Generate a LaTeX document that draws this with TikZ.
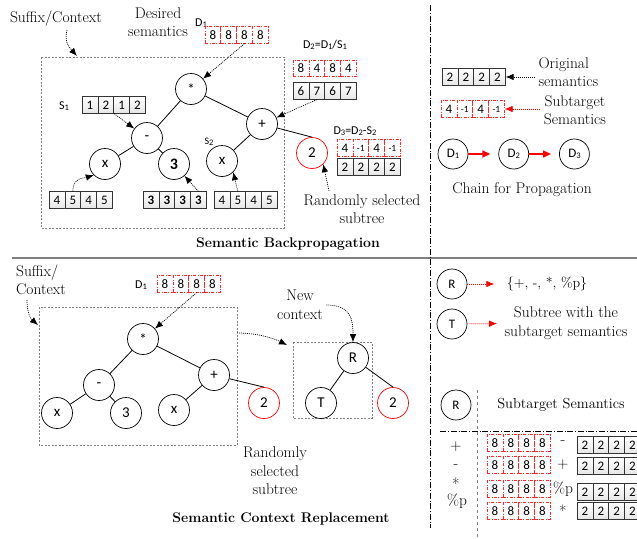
\documentclass[tikz,border=0pt]{standalone}
\usepackage{fontspec}
\newfontfamily\calibri{Carlito}
\usetikzlibrary{positioning, arrows.meta, calc}

\newcommand{\ix}[1]{\raisebox{-0.25ex}{\fontsize{8.5}{8.5}\selectfont #1}}
\newcommand{\sm}[1]{{\fontsize{9.5}{9.5}\selectfont #1}}
% one row of semantic cells: name, style, centre of first cell, values
\newcommand{\semrow}[4]{%
  \foreach \val [count=\idx] in {#4} {
    \node[#2] (#1-\idx) at ($(#3)+(\idx*15.8-15.8,0)$) {\val};
  }%
}

\tikzset{
  tnode/.style={circle, draw, line width=0.7pt, minimum size=31pt, inner sep=0pt,
    font=\calibri\fontsize{15}{15}\selectfont},
  rnode/.style={tnode, draw=red},
  snode/.style={tnode, minimum size=30pt, font=\calibri\fontsize{13}{13}\selectfont},
  semcell/.style={minimum width=15.8pt, minimum height=16.5pt, inner sep=0pt,
    font=\calibri\fontsize{13}{13}\selectfont},
  cellk/.style={semcell, draw=black!80, line width=0.7pt, top color=white, bottom color=black!10},
  cellr/.style={semcell, draw=red!85, line width=0.7pt, fill=white,
    dash pattern=on 3pt off 1.5pt on 0.8pt off 1.5pt},
  txt/.style={font=\fontsize{15.5}{18.5}\selectfont, align=center},
  optxt/.style={txt, inner sep=0pt},
  lbl/.style={font=\calibri\fontsize{12}{12}\selectfont, inner sep=0pt},
  title/.style={font=\bfseries\fontsize{14}{16}\selectfont},
  tedge/.style={line width=0.8pt},
  hint/.style={line width=0.7pt, dash pattern=on 1pt off 1pt, -{Latex[length=8pt,width=6.5pt]}},
  redhint/.style={hint, red},
  prop/.style={red, line width=1.3pt, -{Triangle[length=8pt,width=7pt]}},
  ctxbox/.style={draw=gray, line width=0.5pt, dash pattern=on 2pt off 1.5pt},
  divider/.style={line width=0.6pt, dash pattern=on 6pt off 2pt on 0.6pt off 2pt},
}

\begin{document}
\begin{tikzpicture}[x=1pt, y=-1pt]
\clip (0,0) rectangle (637,538);
\fill[white] (0,0) rectangle (637,538);

% semantic backpropagation
\node[txt] (suf) at (56,19) {Suffix/Context};
\node[txt] (want) at (158,22) {Desired\\semantics};
\node[lbl] (d1lab) at (201,23) {D\ix{1}};
\semrow{d1}{cellr}{212.9,35}{8,8,8,8}
\draw[ctxbox] (41,57) rectangle (284,228);
\coordinate (suf-tail) at (67,30);
\coordinate (suf-tip) at (77,56);

\node[tnode] (star) at (191,89) {*};
\node[tnode] (minus) at (147,138) {-};
\node[tnode] (plus) at (262,124) {+};
\node[tnode] (xa) at (105,164) {x};
\node[tnode, font=\calibri\bfseries\fontsize{16}{16}\selectfont] (three) at (174,164) {3};
\node[tnode] (xb) at (222,161) {x};
\node[rnode] (two) at (312,153) {2};
\draw[tedge]
    (star) edge (minus)
    (star) edge (plus)
    (minus) edge (xa)
    (minus) edge (three)
    (plus) edge (xb)
    (plus) edge (two.north);

\node[lbl] (s1lab) at (64,106) {S\ix{1}};
\semrow{s1}{cellk}{90,105}{1,2,1,2}
\node[lbl, font=\calibri\fontsize{10}{10}\selectfont] (s2lab) at (209,142) {S\ix{2}};
\semrow{la}{cellk}{57,200}{4,5,4,5}
\semrow{th}{cellk, font=\calibri\bfseries\fontsize{13}{13}\selectfont}{151,200}{3,3,3,3}
\semrow{lb}{cellk}{222,200}{4,5,4,5}

\node[lbl] (d2lab) at (325,45) {D\ix{2}=D\ix{1}/S\ix{1}};
\semrow{d2}{cellr}{301,68.5}{8,4,8,4}
\semrow{sv}{cellk}{301,91}{6,7,6,7}
\node[lbl] (d3lab) at (355,131) {D\ix{3}=D\ix{2}-S\ix{2}};
\semrow{d3}{cellr}{345,148}{4,\sm{-1},4,\sm{-1}}
\semrow{tw}{cellk}{345,167}{2,2,2,2}

\node[txt] (rand) at (362,209) {Randomly selected\\subtree};
\node[title] (bp) at (288,244) {Semantic Backpropagation};

\draw[hint] (suf-tail) .. controls +(-3,12) and +(-8,-9) .. (suf-tip);
\draw[hint] (d1-3.south) -- (star);
\draw[hint] (s1-2.south east) -- (minus);
\draw[hint] (la-2.north) .. controls +(0,-14) and +(-10,3) .. (xa.south west);
\draw[hint] (th-4.north) -- (three);
\draw[hint] (lb-2.north) -- (xb.south east);
\draw[hint] (sv-2.south) -- (plus);
\draw[hint] ([xshift=-33pt]rand.north) -- (two.south east);

% legend, top right
\semrow{o}{cellk, minimum height=17pt}{450,77}{2,2,2,2}
\node[txt, align=left, anchor=west] (orig) at (535,72) {Original\\semantics};
\draw[hint] (o-4.east -| orig.west) -- (o-4.east);
\semrow{st}{cellr}{449,109}{4,\sm{-1},4,\sm{-1}}
\node[txt] (subt) at (575,110) {Subtarget\\Semantics};
\draw[redhint] (st-4.east -| subt.west) -- (st-4.east);

\node[snode] (c1) at (453,154) {D\ix{1}};
\node[snode, right=30pt of c1] (c2) {D\ix{2}};
\node[snode, right=30pt of c2] (c3) {D\ix{3}};
\draw[prop, shorten >=8pt] (c1) -- (c2);
\draw[prop, shorten >=8pt] (c2) -- (c3);
\node[txt] (chainlab) at (522,190) {Chain for Propagation};

\draw[gray, line width=1.2pt] (12,258) -- (637,258);
\draw[divider] (430,5) -- (430,528);

% semantic context replacement
\node[txt, align=left] (suf2) at (41,280) {Suffix/\\Context};
\coordinate (suf2-tail) at (27,300);
\coordinate (suf2-tip) at (38,325);
\draw[hint] (suf2-tail) .. controls +(0,12) and +(-8,-7) .. (suf2-tip);
\draw[ctxbox] (39,307) rectangle (237,445);
\node[lbl] (d1blab) at (141,285) {D\ix{1}};
\semrow{e1}{cellr}{165,284}{8,8,8,8}

\node[tnode] (star2) at (143,339) {*};
\node[tnode] (minus2) at (99,385) {-};
\node[tnode] (plus2) at (214,375) {+};
\node[tnode] (xa2) at (57,413) {x};
\node[tnode] (three2) at (126,413) {3};
\node[tnode] (xb2) at (174,410) {x};
\node[rnode] (two2) at (264,403) {2};
\draw[tedge]
    (star2) edge (minus2)
    (star2) edge (plus2)
    (minus2) edge (xa2)
    (minus2) edge (three2)
    (plus2) edge (xb2)
    (plus2) edge (two2.north);
\draw[hint] (e1-3.south) -- (star2);

\coordinate (box-tail) at (237,333);
\coordinate (box-tip) at (287,345);
\draw[hint] (box-tail) .. controls +(20,0) and +(-14,-7) .. (box-tip);
\node[txt] (newctx) at (300,305) {New\\context};
\draw[ctxbox] (293,342) rectangle (372,418);
\node[tnode] (rt) at (353,358) {R};
\node[tnode] (tt) at (321,403) {T};
\node[rnode] (two3) at (393,403) {2};
\draw[tedge]
    (rt) edge (tt)
    (rt) edge (two3.north);
\draw[hint] (newctx.east) .. controls +(25,0) and +(0,-22) .. (rt.north);

\node[txt] (rand2) at (275,471) {Randomly\\selected\\subtree};
\node[title] (cr) at (281,519) {Semantic Context Replacement};

% legend, bottom right
\node[snode] (rr) at (452,284) {R};
\node[txt, font=\fontsize{14}{18}\selectfont] (ops) at (547,284) {\{+, -, *, \%p\}};
\draw[redhint, shorten >=9pt] (rr) -- (ops);
\node[snode] (tr) at (452,324) {T};
\node[txt] (subtxt) at (566,323) {Subtree with the\\subtarget semantics};
\draw[redhint, shorten >=4pt] (tr) -- (subtxt);

\node[snode] (rs) at (456,405) {R};
\draw[gray, line width=1pt, dashed] (477,390) -- (477,538);
\node[txt, font=\fontsize{14.5}{18}\selectfont] (subsem) at (561,405) {Subtarget Semantics};
\draw[divider] (440,431) -- (637,431);

\node[optxt] (op1) at (456,447) {+};
\node[optxt] (op2) at (456,467) {-};
\node[optxt] (op3) at (456,484) {*};
\node[optxt] (op4) at (457,501) {\%p};
\foreach \rw/\yr/\yk/\opr in {1/443/445/-, 2/465/466/+, 3/489/492/\%p, 4/511/511/*} {
  \semrow{m\rw}{cellr}{495,\yr}{8,8,8,8}
  \semrow{k\rw}{cellk}{585,\yk}{2,2,2,2}
  \node[optxt] (mo\rw) at (563,\yr) {\opr};
}
\end{tikzpicture}
\end{document}
